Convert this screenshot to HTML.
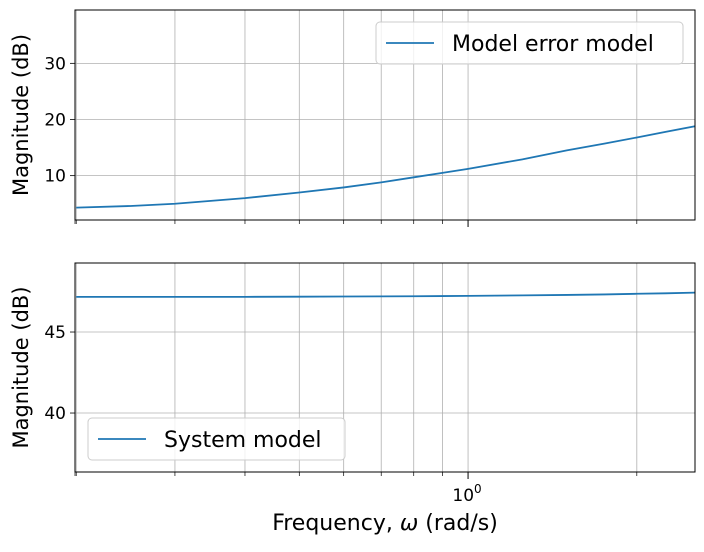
<!DOCTYPE html>
<html><head><meta charset="utf-8"><style>
body{margin:0;background:#fff;font-family:"Liberation Sans","DejaVu Sans",sans-serif}
svg text{font-family:"DejaVu Sans","Liberation Sans",sans-serif}
</style></head><body>
<svg id="c" width="704" height="547" xmlns="http://www.w3.org/2000/svg"></svg>
<script>
const freqs=[0.2,0.25,0.3,0.4,0.5,0.6,0.7,0.8,0.9,1.0,1.25,1.5,1.75,2.0,2.25,2.54];
const errorDb=[4.3,4.6,5.0,6.0,7.0,7.9,8.8,9.7,10.5,11.2,12.9,14.5,15.7,16.8,17.8,18.8];
const systemDb=[47.17,47.17,47.17,47.17,47.18,47.19,47.2,47.21,47.22,47.23,47.26,47.29,47.32,47.36,47.39,47.43];
const topTicks=[10,20,30];
const botTicks=[40,45];
const gridFreqs=[0.2,0.3,0.4,0.5,0.6,0.7,0.8,0.9,1,2];
const NS="http://www.w3.org/2000/svg";
const svg=document.getElementById('c');
const X0=75,X1=695,fmin=0.199,fmax=2.54;
function xs(f){return X0+(Math.log10(f)-Math.log10(fmin))/(Math.log10(fmax)-Math.log10(fmin))*(X1-X0);}
function mk(t,a,p){const e=document.createElementNS(NS,t);for(const k in a)e.setAttribute(k,a[k]);(p||svg).appendChild(e);return e;}
function panel(name,y0,y1,ymin,ymax,ticks,vals,legend,legX,legY,legW){
  const g=mk('g',{});
  
  
  const ys=v=>y1-(v-ymin)/(ymax-ymin)*(y1-y0);
  gridFreqs.forEach(f=>{const x=xs(f);if(x<=X0+0.5)return;
    const l=mk('line',{x1:x,x2:x,y1:y0,y2:y1,stroke:'#b0b0b0','stroke-width':0.8},g);
    
    
    mk('line',{x1:x,x2:x,y1:y1,y2:y1+(f===1?7:4),stroke:'#000','stroke-width':f===1?1:0.7},g);});
  mk('line',{x1:X0,x2:X0,y1:y1,y2:y1+4,stroke:'#000','stroke-width':0.7},g);
  ticks.forEach(t=>{const y=ys(t);
    mk('line',{x1:X0,x2:X1,y1:y,y2:y,stroke:'#b0b0b0','stroke-width':0.8},g);
    mk('line',{x1:X0-5,x2:X0,y1:y,y2:y,stroke:'#000','stroke-width':0.8},g);
    const tx=mk('text',{x:X0-9,y:y+6,'text-anchor':'end','font-size':17},g);tx.textContent=t;
    
    });
  const pts=freqs.map((f,i)=>xs(f)+','+ys(vals[i])).join(' ');
  const pl=mk('polyline',{points:pts,fill:'none',stroke:'#1f77b4','stroke-width':1.8},g);
  
  
  mk('rect',{x:X0,y:y0,width:X1-X0,height:y1-y0,fill:'none',stroke:'#000','stroke-width':1},g);
  const yl=mk('text',{transform:`translate(28,${(y0+y1)/2}) rotate(-90)`,'text-anchor':'middle','font-size':21},g);yl.textContent='Magnitude (dB)';
  
  
  const lg=mk('g',{},g);
  
  
  mk('rect',{x:legX,y:legY,width:legW,height:42,rx:4,fill:'#fff','fill-opacity':0.8,stroke:'#ccc'},lg);
  mk('line',{x1:legX+10,x2:legX+58,y1:legY+21,y2:legY+21,stroke:'#1f77b4','stroke-width':1.8},lg);
  const lt=mk('text',{x:legX+76,y:legY+29,'font-size':22},lg);lt.textContent=legend;
}
panel('top-panel',10,220,2.1,39.5,topTicks,errorDb,'Model error model',376,22,307);
panel('bottom-panel',263,472,36.36,49.26,botTicks,systemDb,'System model',88,418,257);
const xl=mk('text',{x:xs(1)-1,y:501,'text-anchor':'middle','font-size':17});
xl.innerHTML='10<tspan dy="-8" font-size="12">0</tspan>';


const xt=mk('text',{x:385,y:530,'text-anchor':'middle','font-size':22});
xt.innerHTML='Frequency, <tspan font-style="italic">ω</tspan> (rad/s)';


</script>
</body></html>
